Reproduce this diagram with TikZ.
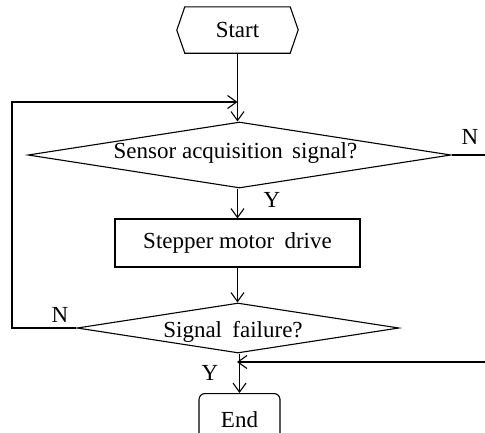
\documentclass[tikz,border=0pt]{standalone}
\usepackage{fontspec}
\setmainfont{Liberation Serif}
\usetikzlibrary{shapes.geometric,arrows.meta}
\begin{document}
\begin{tikzpicture}[x=1pt,y=-1pt,
  every node/.style={font=\fontsize{23}{27}\selectfont},
  ln/.style={line width=1.1pt},
  arr/.style={ln,-{Straight Barb[length=9pt,width=13pt,line width=1.1pt]}},
  dec/.style={ln,draw,shape=diamond,inner sep=0pt},
  proc/.style={ln,draw,inner sep=0pt},
  lbl/.style={inner sep=0pt}]
\useasboundingbox (0,0) rectangle (485,432);
% start hexagon
\node (start) [minimum width=105pt, minimum height=46pt, inner sep=0pt] at (237.5,30) {Start};
\draw[ln] (start.north west) -- (start.north east) -- ++(8,23) -- (start.south east)
  -- (start.south west) -- ++(-8,-23) -- cycle;
% decision 1
\node (d1) [dec, minimum width=423pt, minimum height=66pt, aspect=6.4] at (239.5,155) {};
\node (t1) [lbl] at (235.5,153) {Sensor acquisition\hspace{0.4em}signal?};
% process
\node (p1) [proc, minimum width=245pt, minimum height=48pt] at (237.5,243) {Stepper motor\hspace{0.45em}drive};
% decision 2
\node (d2) [dec, minimum width=322pt, minimum height=50pt, aspect=6.4] at (238,328) {};
\node (t2) [lbl] at (233,332) {Signal\hspace{0.45em}failure?};
% end
\node (end) [proc, rounded corners=6pt, minimum width=81pt, minimum height=60pt, anchor=north] at (239.5,393) {\raisebox{8pt}{End}};
% coordinates
\coordinate (merge) at (start.south |- 0,102);
\coordinate (lc1) at (12,328);
\coordinate (lc2) at (12,102);
\coordinate (rn) at (485,155);
\coordinate (rin) at (485,362);
\coordinate (rend) at (237,362);
% connectors
\draw[arr] (start.south) -- (start.south |- d1.north);
\draw[arr] (d2.west) -- (lc1) -- (lc2) -- (merge);
\draw[ln] (d1.east) -- (rn);
\draw[arr] (d1.south -| p1.north) -- (p1.north);
\draw[arr] (p1.south) -- (p1.south |- d2.north);
\draw[arr] (d2.south -| end.north) -- (end.north);
\draw[arr] (rin) -- (rend);
% labels
\node[lbl] at (272,200) {Y};
\node[lbl] at (470,137) {N};
\node[lbl] at (60,315) {N};
\node[lbl] at (210,373) {Y};
\end{tikzpicture}
\end{document}
